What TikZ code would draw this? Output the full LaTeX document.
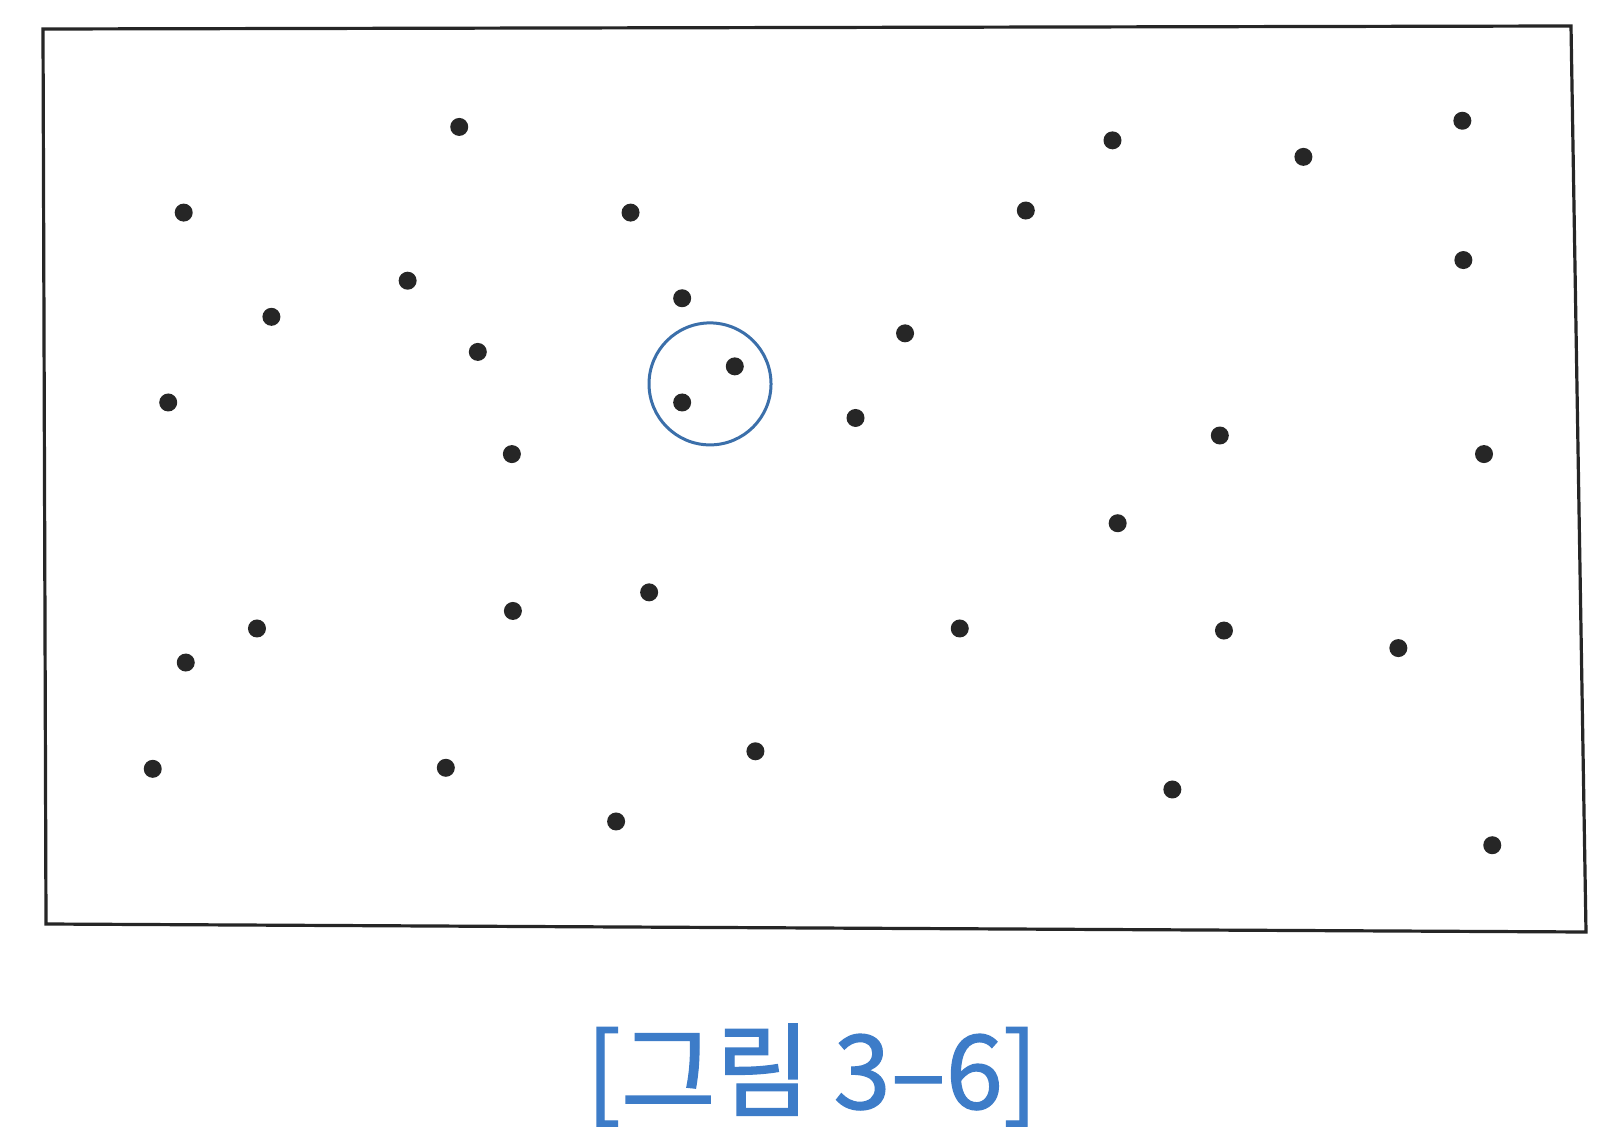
\documentclass[tikz,border=0pt]{standalone}
\usepackage{fontspec}
\newfontfamily\kofont[FakeBold=1.2]{Noto Sans CJK KR}
\definecolor{dotcol}{HTML}{262626}
\definecolor{ringcol}{HTML}{3B6FAA}
\definecolor{capcol}{HTML}{3D7CC8}
\tikzset{
  dot/.style={circle,fill=dotcol,draw=none,minimum size=18pt,inner sep=0pt},
  ring/.style={circle,draw=ringcol,line width=3pt,minimum size=122pt,inner sep=0pt},
  frame/.style={draw=black!85,line width=3.2pt},
  caption/.style={text=capcol,font=\kofont\fontsize{103}{112}\selectfont,inner sep=0pt}
}
\begin{document}
\begin{tikzpicture}[x=1pt,y=-1pt]
\fill[white] (0,0) rectangle (1618,1142);
\useasboundingbox (0,0) rectangle (1618,1142);
\coordinate (c1) at (43,29);
\coordinate (c2) at (1571,26);
\coordinate (c3) at (1586,932);
\coordinate (c4) at (46,924);
\draw[frame] (c1) -- (c2) -- (c3) -- (c4) -- cycle;
\foreach \n/\x/\y in {
 1/445/123, 2/178/206, 3/611/206, 4/1078/136, 5/1263/152, 6/1417/117,
 7/994/204, 8/1418/252, 9/395/272, 10/263/307, 11/661/289, 12/463/341,
 13/877/323, 14/712/355, 15/661/390, 16/163/390, 17/829/405, 18/496/440,
 19/1182/422, 20/1438/440, 21/1083/507, 22/629/574, 23/497/592, 24/249/609,
 25/180/642, 26/930/609, 27/1186/611, 28/1355/628, 29/732/728, 30/148/745,
 31/432/744, 32/1136/765, 33/597/796, 34/1446/819}
 {\node[dot] (d\n) at ({\x*1.032},{\y*1.032}) {};}
\node[ring] (r) at ({688*1.032},{372*1.032}) {};
\node[caption] (cap) at (812,1075) {[그림 3–6]};
\end{tikzpicture}
\end{document}
